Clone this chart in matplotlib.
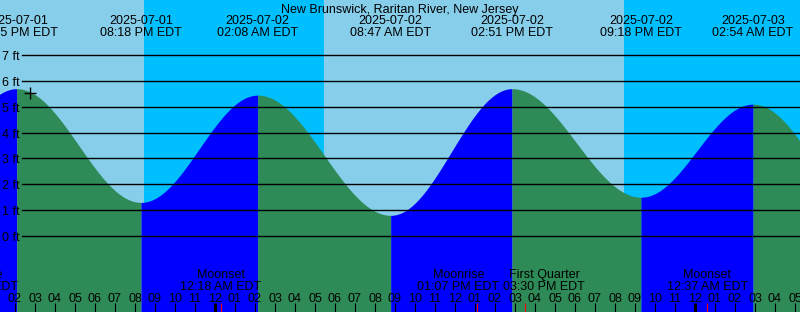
import numpy as np
import pandas as pd
import matplotlib.pyplot as plt
from matplotlib.transforms import blended_transform_factory

plt.rcParams['font.family'] = ['Liberation Sans', 'DejaVu Sans']

# tide extremes (local time, ft)
tide_times = ['2025-07-01 07:50', '2025-07-01 14:05', '2025-07-01 20:18', '2025-07-02 02:08',
              '2025-07-02 08:47', '2025-07-02 14:51', '2025-07-02 21:18', '2025-07-03 02:54',
              '2025-07-03 09:30']
tide_heights = [0.9, 5.7, 1.3, 5.45, 0.8, 5.7, 1.5, 5.1, 0.0]

# sun: night spans
sunsets = ['2025-07-01 20:27', '2025-07-02 20:27']
sunrises = ['2025-07-02 05:27', '2025-07-03 05:27']

# moon events
moon_times = ['2025-07-01 12:06', '2025-07-02 00:18', '2025-07-02 13:07',
              '2025-07-02 15:30', '2025-07-03 00:37']
moon_names = ['Moonrise', 'Moonset', 'Moonrise', 'First Quarter', 'Moonset']

now_time = '2025-07-01 14:45'
now_height = 5.53

title = 'New Brunswick, Raritan River, New Jersey'

T0 = pd.Timestamp('2025-07-01 00:00')
def hrs(s):
    return (pd.Timestamp(s) - T0).total_seconds() / 3600

W, H = 800, 312
XMIN, XMAX = 13.25, 53.25
YMIN, YMAX = -2.94, 9.13

fig = plt.figure(figsize=(W / 100, H / 100), dpi=100)
ax = fig.add_axes([0, 0, 1, 1])
ax.set_xlim(XMIN, XMAX)
ax.set_ylim(YMIN, YMAX)
ax.axis('off')
ax.add_patch(plt.Rectangle((0, 0), 1, 1, transform=ax.transAxes, color='#87CEEB', zorder=0))
for ss, sr in zip(sunsets, sunrises):
    ax.axvspan(hrs(ss), hrs(sr), color='#00BFFF', lw=0, zorder=0.5)

# tide curve, rising blue / falling green
th = [hrs(t) for t in tide_times]
for i in range(len(th) - 1):
    t = np.linspace(th[i], th[i + 1], 200)
    h0, h1 = tide_heights[i], tide_heights[i + 1]
    h = h0 + (h1 - h0) * (1 - np.cos(np.pi * (t - th[i]) / (th[i + 1] - th[i]))) / 2
    col = '#0000FF' if h1 > h0 else '#2E8B57'
    ax.fill_between(t, YMIN, h, color=col, lw=0, zorder=1)

# pixel row (from top) -> axes fraction, text nudged down 2px
px = lambda y: 1 - y / H
tx = lambda y: 1 - (y + 2) / H
bt = blended_transform_factory(ax.transData, ax.transAxes)
lt = blended_transform_factory(ax.transAxes, ax.transData)

# grid lines + labels
for ft in range(0, 8):
    ax.plot([22 / W, 1], [ft, ft], color='black', lw=1.0, transform=lt, zorder=2)
    ax.text(2 / W, ft - 2 / 25.86, f'{ft} ft', transform=lt, ha='left', va='center',
            fontsize=9, zorder=3)

ax.plot(hrs(now_time), now_height, marker='+', color='black', ms=8, mew=1, zorder=4)

# title and tide labels
ax.text(0.5, tx(8), title, transform=ax.transAxes, ha='center', va='center', fontsize=9)
for t in tide_times:
    ts = pd.Timestamp(t)
    x = hrs(t)
    ax.text(x, tx(19), ts.strftime('%Y-%m-%d'), transform=bt, ha='center', va='center', fontsize=9)
    ax.text(x, tx(31), ts.strftime('%I:%M %p EDT'), transform=bt, ha='center', va='center', fontsize=9)

# hour ticks
for hr in range(14, 54):
    lab = pd.Timestamp(T0 + pd.Timedelta(hours=hr)).strftime('%I')
    ax.text(hr, tx(297), lab, transform=bt, ha='center', va='center', fontsize=9, zorder=3)
    lw = 2.2 if hr % 24 == 0 else 0.8
    ax.plot([hr, hr], [px(303), 0], color='black', lw=lw, transform=bt, zorder=3,
            solid_capstyle='butt')

# moon events
nudge = {2: -0.95, 3: 0.95}
for i, (t, name) in enumerate(zip(moon_times, moon_names)):
    x = hrs(t)
    ax.plot([x, x], [px(303), 0], color='red', lw=0.8, transform=bt, zorder=3, solid_capstyle='butt')
    lx = x + nudge.get(i, 0)
    ax.text(lx, tx(273), name, transform=bt, ha='center', va='center', fontsize=9, zorder=3)
    ax.text(lx, tx(285), pd.Timestamp(t).strftime('%I:%M %p EDT'), transform=bt,
            ha='center', va='center', fontsize=9, zorder=3)

plt.savefig('out.png', dpi=100)
